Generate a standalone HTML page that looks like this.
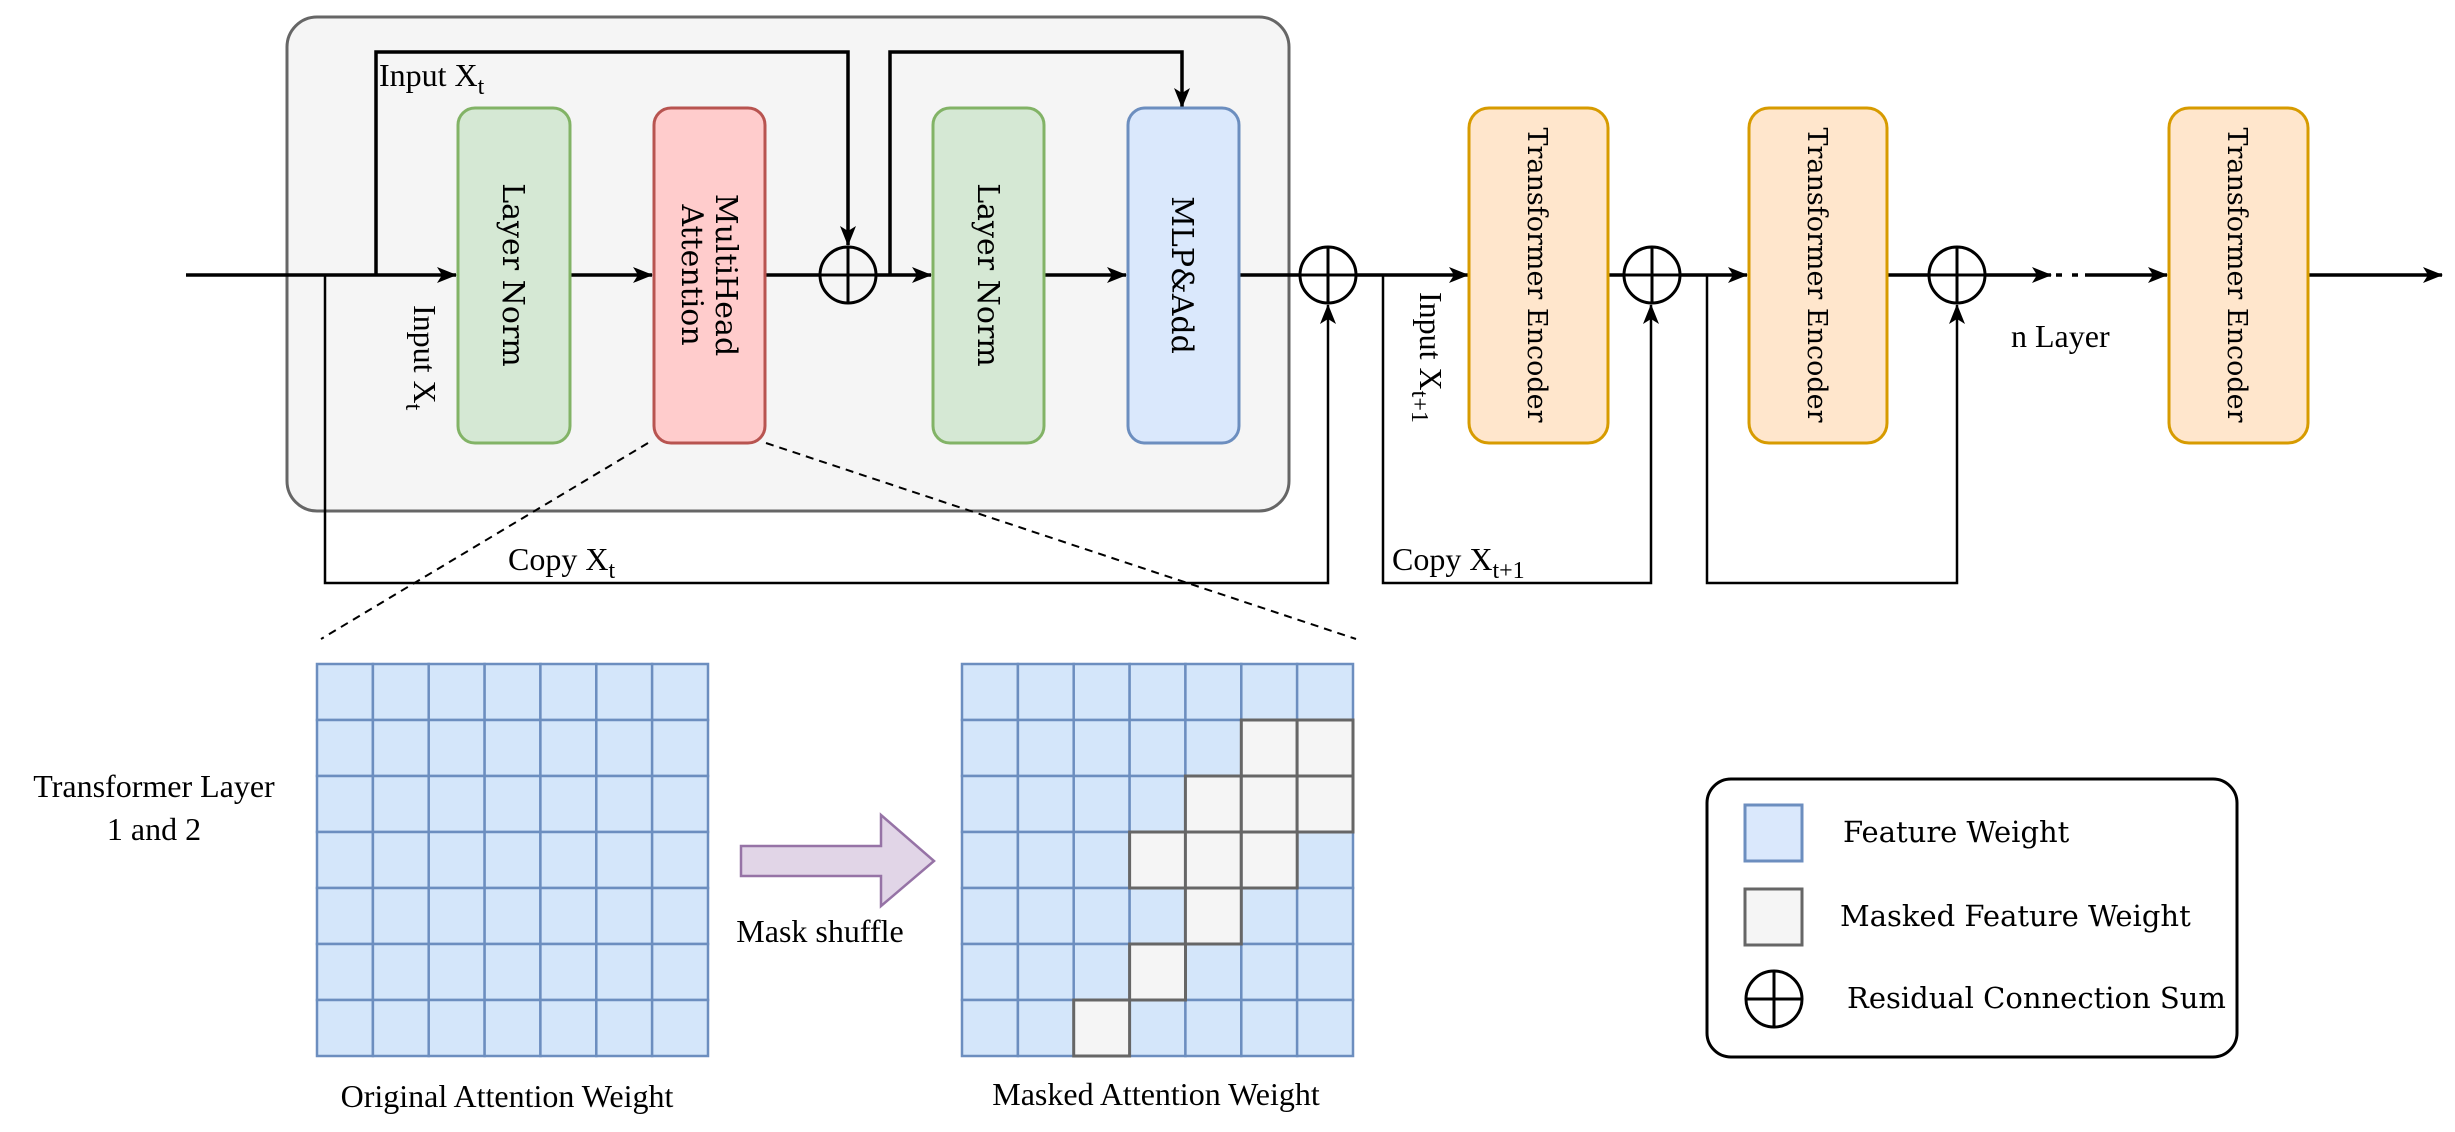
<!DOCTYPE html>
<html><head><meta charset="utf-8"><style>
html,body{margin:0;padding:0;background:#fff;}
svg{display:block;}
text{font-family:"Liberation Serif",serif;}
.dv{font-family:"DejaVu Serif","Liberation Serif",serif;}
</style></head><body>
<svg width="2455" height="1132" viewBox="0 0 2455 1132" xmlns="http://www.w3.org/2000/svg" font-family="Liberation Serif, serif">
<defs>
<marker id="a" viewBox="0 0 20 16" refX="19" refY="8" markerWidth="20" markerHeight="16" markerUnits="userSpaceOnUse" orient="auto">
<path d="M0,0 L20,8 L0,16 L5,8 Z" fill="#000"/>
</marker>
</defs>
<rect x="287" y="17" width="1002" height="494" rx="30" fill="#f5f5f5" stroke="#666" stroke-width="3"/>
<g stroke="#000" stroke-width="3.5" fill="none">
<line x1="186" y1="275" x2="456" y2="275" marker-end="url(#a)"/>
<line x1="570" y1="275" x2="652" y2="275" marker-end="url(#a)"/>
<line x1="766" y1="275" x2="820" y2="275"/>
<line x1="876" y1="275" x2="931" y2="275" marker-end="url(#a)"/>
<line x1="1044" y1="275" x2="1126" y2="275" marker-end="url(#a)"/>
<line x1="1239" y1="275" x2="1300" y2="275"/>
<line x1="1356" y1="275" x2="1468" y2="275" marker-end="url(#a)"/>
<line x1="1608" y1="275" x2="1624" y2="275"/>
<line x1="1680" y1="275" x2="1747" y2="275" marker-end="url(#a)"/>
<line x1="1887" y1="275" x2="1929" y2="275"/>
<line x1="1985" y1="275" x2="2051" y2="275" marker-end="url(#a)"/>
<line x1="2056" y1="275" x2="2062" y2="275"/>
<line x1="2072" y1="275" x2="2078" y2="275"/>
<line x1="2085" y1="275" x2="2167" y2="275" marker-end="url(#a)"/>
<line x1="2308" y1="275" x2="2442" y2="275" marker-end="url(#a)"/>
<polyline points="376,275 376,52 848,52 848,245" marker-end="url(#a)"/>
<polyline points="890,275 890,52 1182,52 1182,107" marker-end="url(#a)"/>
</g>
<g stroke="#000" stroke-width="2.5" fill="none">
<polyline points="325,275 325,583 1328,583 1328,305" marker-end="url(#a)"/>
<polyline points="1383,275 1383,583 1651,583 1651,305" marker-end="url(#a)"/>
<polyline points="1707,275 1707,583 1957,583 1957,305" marker-end="url(#a)"/>
</g>
<g stroke="#000" stroke-width="3" fill="none">
<circle cx="848" cy="275" r="28"/><line x1="820" y1="275" x2="876" y2="275"/><line x1="848" y1="247" x2="848" y2="303"/>
<circle cx="1328" cy="275" r="28"/><line x1="1300" y1="275" x2="1356" y2="275"/><line x1="1328" y1="247" x2="1328" y2="303"/>
<circle cx="1652" cy="275" r="28"/><line x1="1624" y1="275" x2="1680" y2="275"/><line x1="1652" y1="247" x2="1652" y2="303"/>
<circle cx="1957" cy="275" r="28"/><line x1="1929" y1="275" x2="1985" y2="275"/><line x1="1957" y1="247" x2="1957" y2="303"/>
</g>
<rect x="458" y="108" width="112" height="335" rx="17" fill="#d5e8d4" stroke="#82b366" stroke-width="3"/>
<rect x="654" y="108" width="111" height="335" rx="17" fill="#ffcccc" stroke="#b85450" stroke-width="3"/>
<rect x="933" y="108" width="111" height="335" rx="17" fill="#d5e8d4" stroke="#82b366" stroke-width="3"/>
<rect x="1128" y="108" width="111" height="335" rx="17" fill="#dae8fc" stroke="#6c8ebf" stroke-width="3"/>
<rect x="1469" y="108" width="139" height="335" rx="20" fill="#ffe6cc" stroke="#d79b00" stroke-width="3"/>
<rect x="1749" y="108" width="138" height="335" rx="20" fill="#ffe6cc" stroke="#d79b00" stroke-width="3"/>
<rect x="2169" y="108" width="139" height="335" rx="20" fill="#ffe6cc" stroke="#d79b00" stroke-width="3"/>
<g font-size="30" text-anchor="middle" fill="#000" font-family="DejaVu Serif, serif">
<text class="dv" transform="translate(514,275) rotate(90)" dy="11">Layer Norm</text>
<text class="dv" transform="translate(710,275) rotate(90)" dy="-6">MultiHead</text>
<text class="dv" transform="translate(710,275) rotate(90)" dy="28">Attention</text>
<text class="dv" transform="translate(989,275) rotate(90)" dy="11">Layer Norm</text>
<text class="dv" transform="translate(1183,275) rotate(90)" dy="11">MLP&amp;Add</text>
</g>
<g font-size="27" text-anchor="middle" fill="#000" font-family="DejaVu Serif, serif">
<text class="dv" transform="translate(1538,275) rotate(90)" dy="10">Transformer Encoder</text>
<text class="dv" transform="translate(1818,275) rotate(90)" dy="10">Transformer Encoder</text>
<text class="dv" transform="translate(2238,275) rotate(90)" dy="10">Transformer Encoder</text>
</g>
<g font-size="32" fill="#000">
<text x="379" y="86">Input X<tspan font-size="24" dy="8">t</tspan></text>
<text transform="translate(414,305) rotate(90)">Input X<tspan font-size="24" dy="8">t</tspan></text>
<text transform="translate(1420,292) rotate(90)">Input X<tspan font-size="24" dy="8">t+1</tspan></text>
<text x="508" y="570">Copy X<tspan font-size="24" dy="8">t</tspan></text>
<text x="1392" y="570">Copy X<tspan font-size="24" dy="8">t+1</tspan></text>
<text x="2011" y="347">n Layer</text>
<text x="154" y="797" text-anchor="middle">Transformer Layer</text>
<text x="154" y="840" text-anchor="middle">1 and 2</text>
<text x="820" y="942" text-anchor="middle">Mask shuffle</text>
<text x="507" y="1107" text-anchor="middle">Original Attention Weight</text>
<text x="1156" y="1105" text-anchor="middle">Masked Attention Weight</text>
</g>
<g stroke="#000" stroke-width="2" stroke-dasharray="8,6">
<line x1="648" y1="443" x2="321" y2="639"/>
<line x1="766" y1="443" x2="1356" y2="639"/>
</g>
<g stroke="#6c8ebf" stroke-width="2.5" fill="#d4e6fa">
<rect x="317" y="664" width="55.9" height="56"/><rect x="372.9" y="664" width="55.9" height="56"/><rect x="428.7" y="664" width="55.9" height="56"/><rect x="484.6" y="664" width="55.9" height="56"/><rect x="540.4" y="664" width="55.9" height="56"/><rect x="596.3" y="664" width="55.9" height="56"/><rect x="652.1" y="664" width="55.9" height="56"/>
<rect x="317" y="720" width="55.9" height="56"/><rect x="372.9" y="720" width="55.9" height="56"/><rect x="428.7" y="720" width="55.9" height="56"/><rect x="484.6" y="720" width="55.9" height="56"/><rect x="540.4" y="720" width="55.9" height="56"/><rect x="596.3" y="720" width="55.9" height="56"/><rect x="652.1" y="720" width="55.9" height="56"/>
<rect x="317" y="776" width="55.9" height="56"/><rect x="372.9" y="776" width="55.9" height="56"/><rect x="428.7" y="776" width="55.9" height="56"/><rect x="484.6" y="776" width="55.9" height="56"/><rect x="540.4" y="776" width="55.9" height="56"/><rect x="596.3" y="776" width="55.9" height="56"/><rect x="652.1" y="776" width="55.9" height="56"/>
<rect x="317" y="832" width="55.9" height="56"/><rect x="372.9" y="832" width="55.9" height="56"/><rect x="428.7" y="832" width="55.9" height="56"/><rect x="484.6" y="832" width="55.9" height="56"/><rect x="540.4" y="832" width="55.9" height="56"/><rect x="596.3" y="832" width="55.9" height="56"/><rect x="652.1" y="832" width="55.9" height="56"/>
<rect x="317" y="888" width="55.9" height="56"/><rect x="372.9" y="888" width="55.9" height="56"/><rect x="428.7" y="888" width="55.9" height="56"/><rect x="484.6" y="888" width="55.9" height="56"/><rect x="540.4" y="888" width="55.9" height="56"/><rect x="596.3" y="888" width="55.9" height="56"/><rect x="652.1" y="888" width="55.9" height="56"/>
<rect x="317" y="944" width="55.9" height="56"/><rect x="372.9" y="944" width="55.9" height="56"/><rect x="428.7" y="944" width="55.9" height="56"/><rect x="484.6" y="944" width="55.9" height="56"/><rect x="540.4" y="944" width="55.9" height="56"/><rect x="596.3" y="944" width="55.9" height="56"/><rect x="652.1" y="944" width="55.9" height="56"/>
<rect x="317" y="1000" width="55.9" height="56"/><rect x="372.9" y="1000" width="55.9" height="56"/><rect x="428.7" y="1000" width="55.9" height="56"/><rect x="484.6" y="1000" width="55.9" height="56"/><rect x="540.4" y="1000" width="55.9" height="56"/><rect x="596.3" y="1000" width="55.9" height="56"/><rect x="652.1" y="1000" width="55.9" height="56"/>
<rect x="962" y="664" width="55.9" height="56"/><rect x="1017.9" y="664" width="55.9" height="56"/><rect x="1073.7" y="664" width="55.9" height="56"/><rect x="1129.6" y="664" width="55.9" height="56"/><rect x="1185.4" y="664" width="55.9" height="56"/><rect x="1241.3" y="664" width="55.9" height="56"/><rect x="1297.1" y="664" width="55.9" height="56"/>
<rect x="962" y="720" width="55.9" height="56"/><rect x="1017.9" y="720" width="55.9" height="56"/><rect x="1073.7" y="720" width="55.9" height="56"/><rect x="1129.6" y="720" width="55.9" height="56"/><rect x="1185.4" y="720" width="55.9" height="56"/>
<rect x="962" y="776" width="55.9" height="56"/><rect x="1017.9" y="776" width="55.9" height="56"/><rect x="1073.7" y="776" width="55.9" height="56"/><rect x="1129.6" y="776" width="55.9" height="56"/>
<rect x="962" y="832" width="55.9" height="56"/><rect x="1017.9" y="832" width="55.9" height="56"/><rect x="1073.7" y="832" width="55.9" height="56"/><rect x="1297.1" y="832" width="55.9" height="56"/>
<rect x="962" y="888" width="55.9" height="56"/><rect x="1017.9" y="888" width="55.9" height="56"/><rect x="1073.7" y="888" width="55.9" height="56"/><rect x="1129.6" y="888" width="55.9" height="56"/><rect x="1241.3" y="888" width="55.9" height="56"/><rect x="1297.1" y="888" width="55.9" height="56"/>
<rect x="962" y="944" width="55.9" height="56"/><rect x="1017.9" y="944" width="55.9" height="56"/><rect x="1073.7" y="944" width="55.9" height="56"/><rect x="1185.4" y="944" width="55.9" height="56"/><rect x="1241.3" y="944" width="55.9" height="56"/><rect x="1297.1" y="944" width="55.9" height="56"/>
<rect x="962" y="1000" width="55.9" height="56"/><rect x="1017.9" y="1000" width="55.9" height="56"/><rect x="1129.6" y="1000" width="55.9" height="56"/><rect x="1185.4" y="1000" width="55.9" height="56"/><rect x="1241.3" y="1000" width="55.9" height="56"/><rect x="1297.1" y="1000" width="55.9" height="56"/>
</g>
<g fill="#f5f5f5" stroke="#666" stroke-width="3">
<rect x="1241.3" y="720" width="55.9" height="56"/><rect x="1297.1" y="720" width="55.9" height="56"/>
<rect x="1185.4" y="776" width="55.9" height="56"/><rect x="1241.3" y="776" width="55.9" height="56"/><rect x="1297.1" y="776" width="55.9" height="56"/>
<rect x="1129.6" y="832" width="55.9" height="56"/><rect x="1185.4" y="832" width="55.9" height="56"/><rect x="1241.3" y="832" width="55.9" height="56"/>
<rect x="1185.4" y="888" width="55.9" height="56"/>
<rect x="1129.6" y="944" width="55.9" height="56"/>
<rect x="1073.7" y="1000" width="55.9" height="56"/>
</g>
<path d="M741,846 L881,846 L881,815 L934,861 L881,906 L881,876 L741,876 Z" fill="#e1d5e7" stroke="#9673a6" stroke-width="2.5"/>
<rect x="1707" y="779" width="530" height="278" rx="24" fill="#fff" stroke="#000" stroke-width="3"/>
<rect x="1745" y="805" width="57" height="56" fill="#dae8fc" stroke="#6c8ebf" stroke-width="3"/>
<rect x="1745" y="889" width="57" height="56" fill="#f5f5f5" stroke="#666" stroke-width="3"/>
<g stroke="#000" stroke-width="3" fill="none">
<circle cx="1774" cy="999" r="28"/><line x1="1746" y1="999" x2="1802" y2="999"/><line x1="1774" y1="971" x2="1774" y2="1027"/>
</g>
<g font-size="29" fill="#000" font-family="DejaVu Serif, serif">
<text class="dv" x="1843" y="842">Feature Weight</text>
<text class="dv" x="1840" y="926">Masked Feature Weight</text>
<text class="dv" x="1847" y="1008">Residual Connection Sum</text>
</g>
</svg>
</body></html>
